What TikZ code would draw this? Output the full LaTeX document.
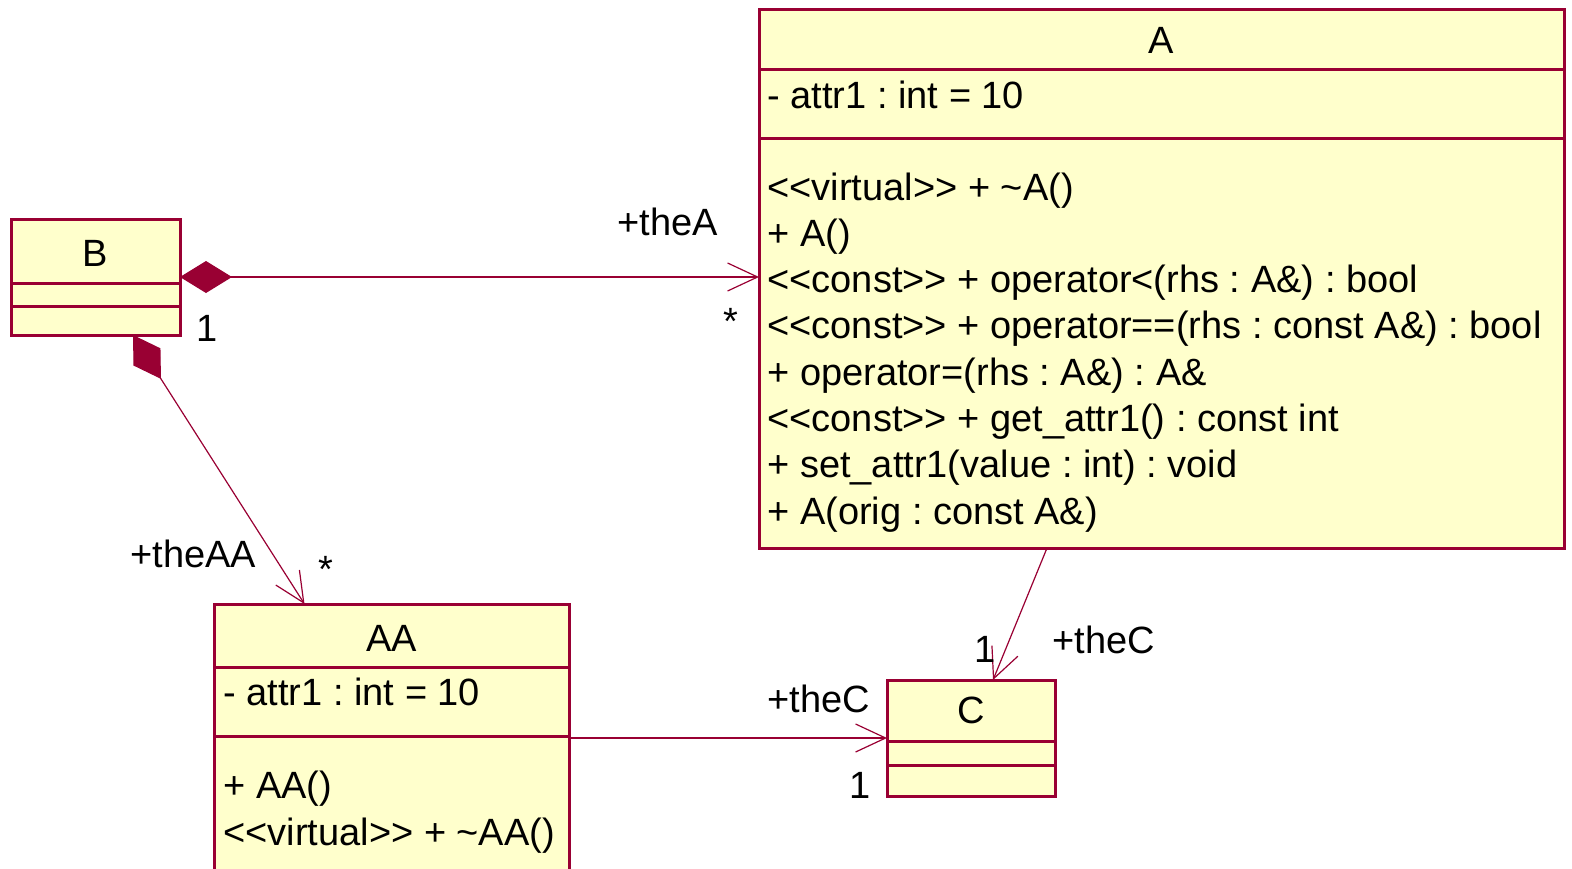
\documentclass[tikz,border=0pt]{standalone}
\usepackage{fontspec}
\setmainfont{Liberation Sans}
\usetikzlibrary{arrows.meta, fit, calc}

\definecolor{umlred}{HTML}{990033}
\definecolor{umlfill}{HTML}{FFFFCC}

\tikzset{
  classbox/.style={draw=umlred, fill=umlfill, line width=1.5pt, inner sep=0pt, outer sep=0pt},
  divider/.style={draw=umlred, line width=1.5pt},
  assoc/.style={draw=umlred, line width=0.6pt},
  comp/.style={{Diamond[length=26pt, width=16pt]}-{Straight Barb[length=15pt, width=14pt]}},
  navi/.style={-{Straight Barb[length=15pt, width=14pt]}},
  txt/.style={anchor=base west, inner sep=0pt},
  ttl/.style={anchor=base, inner sep=0pt},
  mult/.style={inner sep=0pt},
}

\begin{document}
\frenchspacing
\begin{tikzpicture}[x=0.5pt, y=-0.5pt, font=\fontsize{19}{23}\selectfont]
\useasboundingbox (0,0) rectangle (1572,868);
\clip (0,0) rectangle (1572,868);

% class boxes
\node[classbox, fit={(11,219) (180,335)}]   (B)  {};
\node[classbox, fit={(759,9) (1564,548)}]   (A)  {};
\node[classbox, fit={(214,604) (569,890)}]  (AA) {};
\node[classbox, fit={(887,680) (1055,796)}] (C)  {};

\draw[divider] (B.west |- 0,283) -- (B.east |- 0,283);
\draw[divider] (B.west |- 0,306) -- (B.east |- 0,306);
\draw[divider] (A.west |- 0,69)  -- (A.east |- 0,69);
\draw[divider] (A.west |- 0,138) -- (A.east |- 0,138);
\draw[divider] (AA.west |- 0,667) -- (AA.east |- 0,667);
\draw[divider] (AA.west |- 0,736) -- (AA.east |- 0,736);
\draw[divider] (C.west |- 0,741) -- (C.east |- 0,741);
\draw[divider] (C.west |- 0,765) -- (C.east |- 0,765);

% B
\node[ttl] (Bname) at (95.5,266) {B};

% A
\node[ttl] (Aname) at (1161.5,53) {A};
\node[txt] (Aattr) at (767,108) {- attr1 : int = 10};
\node[txt] (Aop1) at (767,200)   {<{}<virtual>{}> + \textasciitilde A()};
\node[txt] (Aop2) at (767,246.3) {+ A()};
\node[txt] (Aop3) at (767,292.6) {<{}<const>{}> + operator<(rhs : A\&) : bool};
\node[txt] (Aop4) at (767,338.9) {<{}<const>{}> + operator==(rhs : const A\&) : bool};
\node[txt] (Aop5) at (767,385.2) {+ operator=(rhs : A\&) : A\&};
\node[txt] (Aop6) at (767,431.5) {<{}<const>{}> + get\_attr1() : const int};
\node[txt] (Aop7) at (767,477.8) {+ set\_attr1(value : int) : void};
\node[txt] (Aop8) at (767,524.1) {+ A(orig : const A\&)};

% AA
\node[ttl] (AAname) at (391.5,651) {AA};
\node[txt] (AAattr) at (223,705) {- attr1 : int = 10};
\node[txt] (AAop1) at (223,798) {+ AA()};
\node[txt] (AAop2) at (223,845) {<{}<virtual>{}> + \textasciitilde AA()};

% C
\node[ttl] (Cname) at (971,723) {C};

% associations
\draw[assoc, comp] (B.east) -- (B.east -| A.west);
\draw[assoc, comp] ($(B.south)+(37.5,0)$) -- ($(AA.north)+(-87,0)$);
\draw[assoc, navi] ($(A.south)+(-114.5,0)$) -- ($(C.north)+(22,0)$);
\draw[assoc, navi] (C.west -| AA.east) -- (C.west);

% role names and multiplicities
\node[txt] (roleA)   at (617,235)  {+theA};
\node[mult] (multA)  at (731,321)  {*};
\node[ttl] (multB)   at (207,341)  {1};
\node[txt] (roleAA)  at (130,567)  {+theAA};
\node[mult] (multAA) at (326,569)  {*};
\node[ttl] (multC1)  at (985,662)  {1};
\node[txt] (roleC1)  at (1052,653) {+theC};
\node[txt] (roleC2)  at (767,712)  {+theC};
\node[ttl] (multC2)  at (860,798)  {1};
\end{tikzpicture}
\end{document}
